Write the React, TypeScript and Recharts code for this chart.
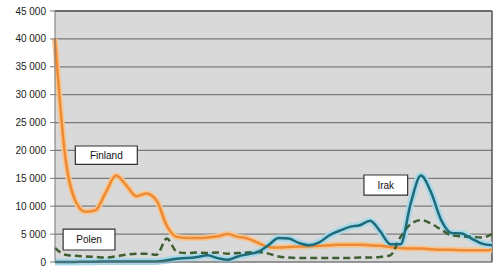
import React from 'react';
import { LineChart, Line, XAxis, YAxis, CartesianGrid, ReferenceArea, ReferenceLine } from 'recharts';

const years = [
  1970, 1971, 1972, 1973, 1974, 1975, 1976, 1977, 1978, 1979,
  1980, 1981, 1982, 1983, 1984, 1985, 1986, 1987, 1988, 1989,
  1990, 1991, 1992, 1993, 1994, 1995, 1996, 1997, 1998, 1999,
  2000, 2001, 2002, 2003, 2004, 2005, 2006, 2007, 2008, 2009,
  2010, 2011, 2012, 2013,
];

const finland = [
  40000, 19000, 11000, 9000, 9300, 12500, 15500, 13800, 11800, 12300,
  11000, 6500, 4500, 4300, 4300, 4400, 4600, 5000, 4500, 4200,
  3400, 2700, 2600, 2700, 2800, 2800, 2900, 3000, 3100, 3100,
  3100, 3000, 2900, 2700, 2500, 2400, 2400, 2300, 2200, 2200,
  2100, 2100, 2100, 2200,
];

const polen = [
  2500, 1300, 1100, 1000, 900, 800, 1000, 1300, 1500, 1500,
  1300, 4200, 1800, 1600, 1700, 1600, 1700, 1500, 1600, 1700,
  1800, 1500, 1000, 800, 700, 700, 700, 700, 700, 700,
  800, 800, 900, 1200, 4500, 6800, 7500, 6900, 5800, 4800,
  4600, 4500, 4400, 5000,
];

const irak = [
  0, 0, 0, 50, 50, 100, 100, 100, 100, 100,
  100, 300, 600, 700, 900, 1200, 700, 400, 1000, 1400,
  1800, 3000, 4300, 4200, 3400, 3000, 3500, 4800, 5600, 6300,
  6600, 7400, 5500, 3200, 3200, 10500, 15500, 12500, 7500, 5200,
  5100, 4200, 3300, 3000,
];

const yTicks = [0, 5000, 10000, 15000, 20000, 25000, 30000, 35000, 40000, 45000];
const xTicks = [1970, 1975, 1980, 1985, 1990, 1995, 2000, 2005, 2010];

const data = years.map((year, i) => ({
  year,
  finland: finland[i],
  polen: polen[i],
  irak: irak[i],
}));

const fmt = (v: number) => (v >= 1000 ? `${Math.floor(v / 1000)} ${String(v % 1000).padStart(3, '0')}` : String(v));

const boxLabel = (value: string) => ({
  value,
  position: 'center' as const,
  fill: '#111',
  fontSize: 10,
  fontFamily: 'Liberation Sans, Arial, sans-serif',
});

export default function App() {
  return (
    <div style={{ position: 'absolute', left: 0, top: 0, width: 499, height: 290, background: '#fff' }}>
      <LineChart width={499} height={290} data={data} margin={{ top: 11, right: 7, left: 0, bottom: 0 }}>
        <CartesianGrid vertical={false} fill="#d9d9d9" stroke="#7a7a7a" strokeWidth={1.2} />
        <XAxis
          dataKey="year"
          type="number"
          domain={[1970, 2013]}
          ticks={xTicks}
          height={28}
          tickLine={false}
          tickMargin={8}
          axisLine={{ stroke: '#777' }}
          tick={{ fontSize: 10, fill: '#222', fontFamily: 'Liberation Sans, Arial, sans-serif' }}
        />
        <YAxis
          width={55}
          domain={[0, 45000]}
          ticks={yTicks}
          tickFormatter={fmt}
          tickSize={5}
          tickMargin={4}
          axisLine={{ stroke: '#777' }}
          tickLine={{ stroke: '#777' }}
          tick={{ fontSize: 10, fill: '#222', fontFamily: 'Liberation Sans, Arial, sans-serif' }}
        />
        <ReferenceLine x={2013} stroke="#555" strokeWidth={1.5} />
        <ReferenceLine y={45000} stroke="#555" strokeWidth={1.5} />

        <Line type="monotone" dataKey="finland" stroke="#f7c58f" strokeWidth={6} dot={false} isAnimationActive={false} />
        <Line type="monotone" dataKey="irak" stroke="#a9d7e8" strokeWidth={7} dot={false} isAnimationActive={false} />
        <Line type="monotone" dataKey="finland" stroke="#ec8a36" strokeWidth={2.5} dot={false} isAnimationActive={false} />
        <Line type="monotone" dataKey="polen" stroke="#3f5f30" strokeWidth={2.5} strokeDasharray="7 4" dot={false} isAnimationActive={false} />
        <Line type="monotone" dataKey="irak" stroke="#1d6b78" strokeWidth={2.5} dot={false} isAnimationActive={false} />

        <ReferenceArea x1={1972} x2={1978.1} y1={17500} y2={20800} fill="#fff" fillOpacity={1} stroke="#333" strokeWidth={1.2} label={boxLabel('Finland')} />
        <ReferenceArea x1={1970.8} x2={1975.9} y1={2150} y2={5900} fill="#fff" fillOpacity={1} stroke="#333" strokeWidth={1.2} label={boxLabel('Polen')} />
        <ReferenceArea x1={2000.4} x2={2004.7} y1={12000} y2={15600} fill="#fff" fillOpacity={1} stroke="#333" strokeWidth={1.2} label={boxLabel('Irak')} />
      </LineChart>
    </div>
  );
}
